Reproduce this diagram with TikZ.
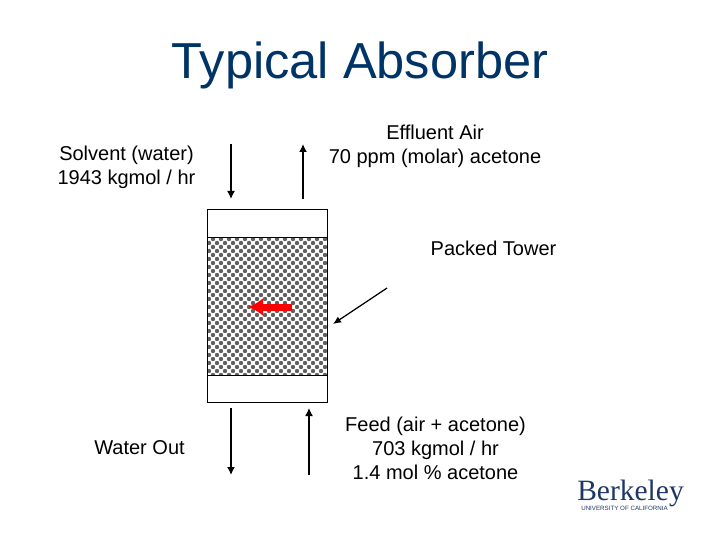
\documentclass[tikz,border=0pt]{standalone}
\usepackage{fontspec}
\setmainfont{Liberation Sans}
\newfontfamily\logofont{Liberation Serif}
\usetikzlibrary{patterns,arrows.meta}
\definecolor{titleblue}{RGB}{0,51,102}
\definecolor{logoblue}{RGB}{30,55,100}
\pgfdeclarepatternformonly{packing}{\pgfqpoint{-1pt}{-1pt}}{\pgfqpoint{7pt}{7pt}}{\pgfqpoint{8pt}{8pt}}{
	\pgfpathcircle{\pgfqpoint{1pt}{1pt}}{2.2pt}
	\pgfpathcircle{\pgfqpoint{5pt}{5pt}}{2.2pt}
	\pgfusepath{fill}
}
\tikzset{every picture/.style={line width=0.75pt}}
\tikzset{
	tag/.style={font=\fontsize{20}{24}\selectfont,align=center,text=black},
	shellbox/.style={draw,fill=white,minimum width=120pt,inner sep=0pt,line width=1pt},
	flow/.style={draw,line width=1.5pt,-{Latex[length=8pt,width=8pt]}},
}
\begin{document}
\begin{tikzpicture}[x=1pt,y=-1pt]
	\useasboundingbox (0,0) rectangle (720,540);
	\node [font=\fontsize{50.6}{50.6}\selectfont,text=titleblue] (title) at (360,65) {Typical Absorber};
	\node [tag] (solvent) at (126.5,167) {Solvent (water)\\1943 kgmol / hr};
	\node [tag] (effluent) at (435,146.5) {Effluent Air\\70 ppm (molar) acetone};
	\node [tag] (tower) at (493.5,248) {Packed Tower};
	\node [tag] (water) at (139.5,448) {Water Out};
	\node [tag] (feed) at (435.5,448) {Feed (air + acetone)\\703 kgmol / hr\\1.4 mol \% acetone};
	% column
	\node [shellbox,minimum height=192pt] (shell) at (267.5,306) {};
	\node [draw,pattern=packing,pattern color=black!62,minimum width=120pt,minimum height=138pt,inner sep=0pt,line width=1pt] (bed) at (267.5,306) {};
	% stream arrows
	\coordinate (solventa) at (231,144);
	\coordinate (solventb) at (231,199);
	\coordinate (effluenta) at (303,199);
	\coordinate (effluentb) at (303,144);
	\coordinate (watera) at (231,408);
	\coordinate (waterb) at (231,475);
	\coordinate (feeda) at (309,475);
	\coordinate (feedb) at (309,408);
	\coordinate (pointera) at (387,288);
	\coordinate (pointerb) at (333,324);
	\coordinate (reda) at (292,307);
	\coordinate (redb) at (248,307);
	\draw [flow] (solventa) -- (solventb);
	\draw [flow] (effluenta) -- (effluentb);
	\draw [flow] (watera) -- (waterb);
	\draw [flow] (feeda) -- (feedb);
	\draw [draw,line width=1.25pt,-{Latex[length=8pt,width=7pt]}] (pointera) -- (pointerb);
	\draw [draw=red,line width=7pt,-{Latex[length=15pt,width=18pt]}] (reda) -- (redb);
	% logo
	\node [font=\logofont\fontsize{29.5}{29.5}\selectfont,text=logoblue,inner sep=0pt] (logo) at (630.5,493) {Berkeley};
	\node [font=\fontsize{6.2}{6.2}\selectfont,text=logoblue,inner sep=0pt] (logosub) at (624.5,508.5) {UNIVERSITY OF CALIFORNIA};
\end{tikzpicture}
\end{document}
